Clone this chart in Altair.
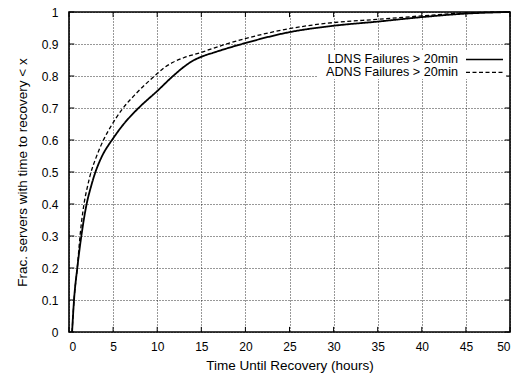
import altair as alt
import pandas as pd

# ---- data ----
ldns_x = [0.35, 0.57, 0.94, 1.4, 2.0, 2.5, 3.0, 3.5, 4.0, 4.5, 5.0, 6.0, 7.0, 8.0, 10.0, 11.8, 13.0, 14.0, 15.0, 16.5, 20.0, 25.0, 30.0, 35.0, 40.0, 45.0, 50.0]
ldns_y = [0.0, 0.1, 0.2, 0.3, 0.4, 0.455, 0.5, 0.535, 0.563, 0.585, 0.605, 0.643, 0.675, 0.703, 0.753, 0.8, 0.828, 0.847, 0.86, 0.874, 0.903, 0.937, 0.957, 0.970, 0.984, 0.995, 1.0]

adns_x = [0.35, 0.57, 0.94, 1.25, 1.7, 2.1, 2.5, 3.0, 3.5, 4.0, 4.8, 6.0, 7.6, 9.7, 10.8, 11.8, 13.0, 15.0, 17.5, 20.0, 25.0, 30.0, 35.0, 40.0, 45.0, 50.0]
adns_y = [0.0, 0.1, 0.2, 0.3, 0.4, 0.455, 0.5, 0.54, 0.575, 0.605, 0.645, 0.695, 0.745, 0.8, 0.826, 0.843, 0.857, 0.874, 0.897, 0.917, 0.948, 0.967, 0.977, 0.988, 0.997, 1.0]

series_names = ["LDNS Failures > 20min", "ADNS Failures > 20min"]
x_ticks = [0, 5, 10, 15, 20, 25, 30, 35, 40, 45, 50]
y_ticks = [0, 0.1, 0.2, 0.3, 0.4, 0.5, 0.6, 0.7, 0.8, 0.9, 1.0]

x_title = "Time Until Recovery (hours)"
y_title = "Frac. servers with time to recovery < x"

FONT = "Liberation Sans"

df = pd.concat([
    pd.DataFrame({"x": ldns_x, "y": ldns_y, "series": series_names[0]}),
    pd.DataFrame({"x": adns_x, "y": adns_y, "series": series_names[1]}),
])

xs = alt.Scale(domain=[0, 50], nice=False, zero=False)
ys = alt.Scale(domain=[0, 1], nice=False)
x_axis = alt.Axis(values=x_ticks, format="d", grid=True, ticks=False, domain=False,
                  labelPadding=9, titlePadding=6, labelOverlap=False, tickCount=11)
y_axis = alt.Axis(values=y_ticks, format="~g", grid=True, ticks=False, domain=False,
                  labelPadding=11, titlePadding=12, labelOverlap=False, tickCount=11)


def X(field):
    return alt.X(field, scale=xs, title=x_title, axis=x_axis)


def Y(field):
    return alt.Y(field, scale=ys, title=y_title, axis=y_axis)


lines = alt.Chart(df).mark_line(interpolate="monotone", color="black").encode(
    x=X("x:Q"),
    y=Y("y:Q"),
    strokeDash=alt.StrokeDash("series:N", scale=alt.Scale(domain=series_names, range=[[1, 0], [4, 2.5]]), legend=None),
    strokeWidth=alt.StrokeWidth("series:N", scale=alt.Scale(domain=series_names, range=[1.8, 1.3]), legend=None),
    detail="series:N",
)

xt = pd.DataFrame({"v": x_ticks})
yt = pd.DataFrame({"v": y_ticks})

tick_bottom = alt.Chart(xt).mark_rule(color="black", strokeWidth=1).encode(
    x=X("v:Q"), y=alt.datum(0), y2=alt.datum(0.016))
tick_top = alt.Chart(xt).mark_rule(color="black", strokeWidth=1).encode(
    x=X("v:Q"), y=alt.datum(1), y2=alt.datum(0.984))
tick_left = alt.Chart(yt).mark_rule(color="black", strokeWidth=1).encode(
    y=Y("v:Q"), x=alt.datum(0), x2=alt.datum(0.6))
tick_right = alt.Chart(yt).mark_rule(color="black", strokeWidth=1).encode(
    y=Y("v:Q"), x=alt.datum(50), x2=alt.datum(49.4))

one = pd.DataFrame({"a": [0]})
legend_bg = alt.Chart(one).mark_rect(color="white").encode(
    x=alt.value(249), x2=alt.value(437), y=alt.value(38), y2=alt.value(67))

leg1 = pd.DataFrame({"label": [series_names[0]]})
leg2 = pd.DataFrame({"label": [series_names[1]]})
leg_text1 = alt.Chart(leg1).mark_text(align="right", baseline="middle", font=FONT, fontSize=12.6, color="black").encode(
    text="label:N", x=alt.value(389), y=alt.value(47.4))
leg_text2 = alt.Chart(leg2).mark_text(align="right", baseline="middle", font=FONT, fontSize=12.6, color="black").encode(
    text="label:N", x=alt.value(389), y=alt.value(60.3))
leg_line1 = alt.Chart(leg1).mark_rule(color="black", strokeWidth=1.5).encode(
    x=alt.value(397), x2=alt.value(434), y=alt.value(47.4))
leg_line2 = alt.Chart(leg2).mark_rule(color="black", strokeWidth=1.2, strokeDash=[4, 2.5]).encode(
    x=alt.value(397), x2=alt.value(434), y=alt.value(60.3))

chart = alt.layer(
    lines, tick_bottom, tick_top, tick_left, tick_right,
    legend_bg, leg_text1, leg_text2, leg_line1, leg_line2,
).properties(
    width=441, height=320,
    autosize=alt.AutoSizeParams(type="none"),
    padding={"left": 69, "top": 12, "right": 7, "bottom": 43},
    background="white",
).configure_view(
    stroke="black", strokeWidth=1.6,
).configure_axis(
    labelFont=FONT, titleFont=FONT, labelFontSize=12, titleFontSize=13.5,
    titleFontWeight="normal", labelColor="black", titleColor="black",
    gridColor="black", gridDash=[1, 2], gridWidth=0.9, gridOpacity=0.9,
)

chart.save("out.html", embed_options={"renderer": "svg", "actions": False})
